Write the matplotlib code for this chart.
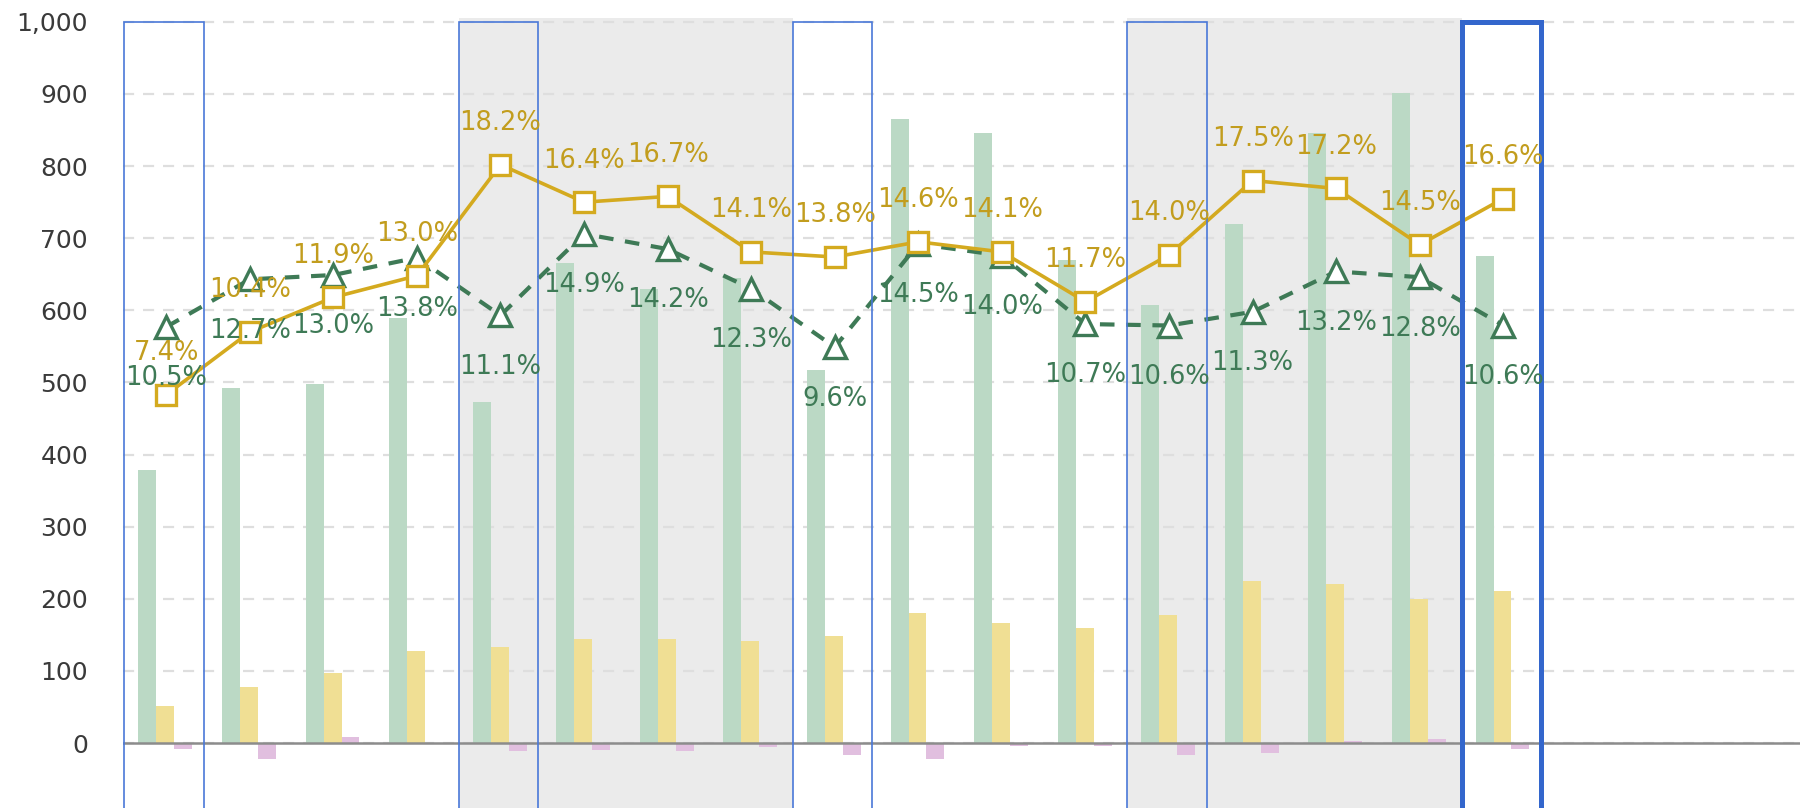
import numpy as np
import matplotlib
matplotlib.use("Agg")
import matplotlib.pyplot as plt
from matplotlib.patches import Rectangle
from matplotlib.ticker import FuncFormatter

# values
n_slots = 20  # 17 filled categories, 3 empty slots at the right
bar_green = [378, 493, 498, 590, 473, 665, 629, 645, 517, 865, 846, 670, 607, 720, 846, 901, 675]
bar_yellow = [52, 78, 97, 128, 133, 144, 145, 142, 148, 181, 167, 159, 178, 225, 220, 200, 211]
bar_pink = [-8, -22, 8, -1, -11, -10, -11, -6, -16, -22, -4, -4, -16, -14, 3, 6, -8]

line_gold = [483, 570, 618, 648, 802, 750, 758, 681, 674, 695, 681, 612, 677, 780, 769, 691, 755]
line_green = [577, 643, 649, 673, 593, 706, 685, 630, 549, 692, 676, 581, 579, 598, 654, 646, 579]

pct_gold = [7.4, 10.4, 11.9, 13.0, 18.2, 16.4, 16.7, 14.1, 13.8, 14.6, 14.1, 11.7, 14.0, 17.5, 17.2, 14.5, 16.6]
pct_green = [10.5, 12.7, 13.0, 13.8, 11.1, 14.9, 14.2, 12.3, 9.6, 14.5, 14.0, 10.7, 10.6, 11.3, 13.2, 12.8, 10.6]

shaded_spans = [(4, 7), (12, 15)]
boxed = [0, 4, 8, 12]
boxed_thick = [16]

c_green_bar = "#bbd9c5"
c_yellow_bar = "#f0df94"
c_pink_bar = "#e1bfdf"
c_gold = "#d4aa1f"
c_gold_txt = "#c29d1e"
c_green = "#3e7a56"

plt.rcParams['font.family'] = ['DejaVu Sans']

fig = plt.figure(figsize=(18, 8.08), dpi=100)
ax = fig.add_axes([0.0682, 0.0, 0.9318, 0.9774])

x = np.arange(len(bar_green))
w = 0.215

for a, b in shaded_spans:
    ax.axvspan(a - 0.5, b + 0.5, color="#ebebeb", zorder=0, lw=0)

ax.set_axisbelow(True)
ax.yaxis.grid(True, color="#dedede", lw=1.6, ls=(0, (5, 4)), zorder=0.5)

ax.bar(x - 0.225, bar_green, w, color=c_green_bar, zorder=2)
ax.bar(x - 0.01, bar_yellow, w, color=c_yellow_bar, zorder=2)
ax.bar(x + 0.205, bar_pink, w, color=c_pink_bar, zorder=2)

ax.axhline(0, color="#8c8c8c", lw=1.8, zorder=3)

ax.plot(x, line_green, color=c_green, lw=3, ls=(0, (3.5, 2.8)), marker="^",
        ms=16, mfc="white", mec=c_green, mew=2.4, zorder=4)
ax.plot(x, line_gold, color=c_gold, lw=2.6, marker="s",
        ms=15, mfc="white", mec=c_gold, mew=2.4, zorder=5)

for i in range(len(x)):
    ax.annotate(f"{pct_gold[i]:.1f}%", (x[i], line_gold[i]), xytext=(0, 30),
                textcoords="offset points", ha="center", va="center",
                fontsize=18.5, color=c_gold_txt, zorder=7)
    ax.annotate(f"{pct_green[i]:.1f}%", (x[i], line_green[i]), xytext=(0, -37),
                textcoords="offset points", ha="center", va="center",
                fontsize=18.5, color=c_green, zorder=7)

for i in boxed:
    ax.add_patch(Rectangle((i - 0.5, -200), 0.95, 1200, fill=False,
                           ec="#4a78d8", lw=1.2, zorder=6))
for i in boxed_thick:
    ax.add_patch(Rectangle((i - 0.5, -200), 0.95, 1200, fill=False,
                           ec="#3366cc", lw=3.6, zorder=6))

ax.set_xlim(-0.52, 19.55)
ax.set_ylim(-90, 1005)
ax.set_yticks(np.arange(0, 1001, 100))
ax.yaxis.set_major_formatter(FuncFormatter(lambda v, p: f"{int(v):,}"))
ax.tick_params(axis="y", length=0, labelsize=18, labelcolor="#3a3a3a", pad=25)
ax.set_xticks([])
for s in ax.spines.values():
    s.set_visible(False)

fig.savefig("out.png", dpi=100)
